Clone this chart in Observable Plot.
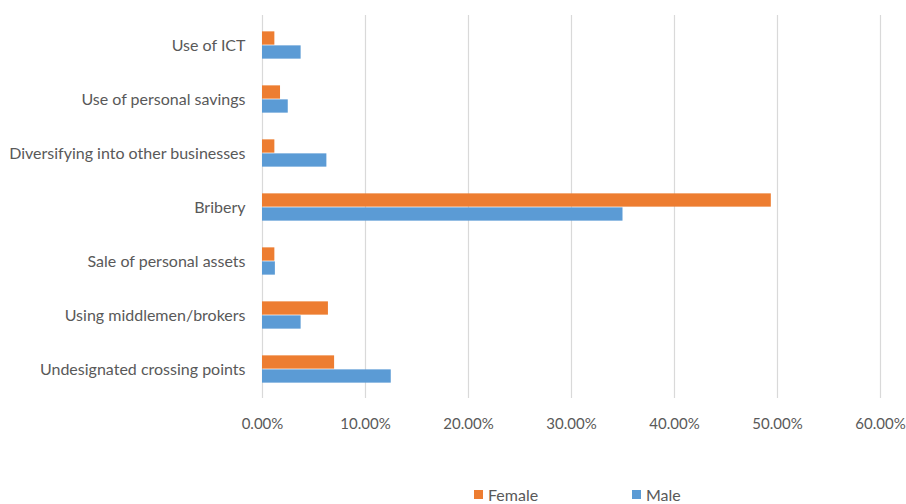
<!DOCTYPE html>
<html>
<head>
<meta charset="utf-8">
<script src="https://cdn.jsdelivr.net/npm/d3@7"></script>
<script src="https://cdn.jsdelivr.net/npm/@observablehq/plot@0.6"></script>
<style>
  html, body { margin: 0; padding: 0; background: #fff; overflow: hidden; }
  body { width: 906px; height: 504px; font-family: Lato, "Open Sans", sans-serif; color: #595959; }
  #legend { position: absolute; top: 485px; left: 0; width: 906px; height: 22px; font-size: 16px; }
  .item { position: absolute; top: 0; display: flex; align-items: center; }
  .sw { width: 9px; height: 9px; margin-right: 5px; }
</style>
</head>
<body>
<div id="chart"></div>
<div id="legend"></div>
<script>
const categories = [
  "Use of ICT",
  "Use of personal savings",
  "Diversifying into other businesses",
  "Bribery",
  "Sale of personal assets",
  "Using middlemen/brokers",
  "Undesignated crossing points"
];
const female = [1.2, 1.75, 1.2, 49.4, 1.2, 6.4, 7.0];
const male = [3.75, 2.5, 6.25, 35.0, 1.25, 3.75, 12.5];
const seriesNames = ["Female", "Male"];
const seriesColors = ["#ED7D31", "#5B9BD5"];
const xTicks = [0, 10, 20, 30, 40, 50, 60];

const femaleData = categories.map((c, i) => ({category: c, value: female[i] / 100}));
const maleData = categories.map((c, i) => ({category: c, value: male[i] / 100}));

const step = 383 / 7;
const barH = 14;
const half = step / 2;

const chart = Plot.plot({
  width: 906,
  height: 440,
  marginTop: 15,
  marginBottom: 42,
  marginLeft: 262,
  marginRight: 26,
  style: {fontFamily: "Lato, 'Open Sans', sans-serif", fontSize: "16px", color: "#595959", background: "#fff"},
  x: {domain: [0, 0.6], label: null},
  y: {domain: categories, padding: 0, label: null},
  marks: [
    Plot.gridX(xTicks.map(d => d / 100), {stroke: "#d9d9d9", strokeOpacity: 1, strokeWidth: 1.2}),
    Plot.barX(femaleData, {x: "value", y: "category", fill: seriesColors[0], insetTop: half - barH, insetBottom: half}),
    Plot.barX(maleData, {x: "value", y: "category", fill: seriesColors[1], insetTop: half, insetBottom: half - barH}),
    Plot.axisX(xTicks.map(d => d / 100), {tickFormat: d => (d * 100).toFixed(2) + "%", tickSize: 0, tickPadding: 20, label: null, fontSize: 15}),
    Plot.axisY({tickSize: 0, tickPadding: 17, label: null, fontSize: 16})
  ]
});
document.getElementById("chart").appendChild(chart);

const legend = document.getElementById("legend");
const lx = [474, 632];
seriesNames.forEach((n, i) => {
  const it = document.createElement("div");
  it.className = "item";
  it.style.left = lx[i] + "px";
  it.innerHTML = `<span class="sw" style="background:${seriesColors[i]}"></span><span>${n}</span>`;
  legend.appendChild(it);
});
</script>
</body>
</html>
